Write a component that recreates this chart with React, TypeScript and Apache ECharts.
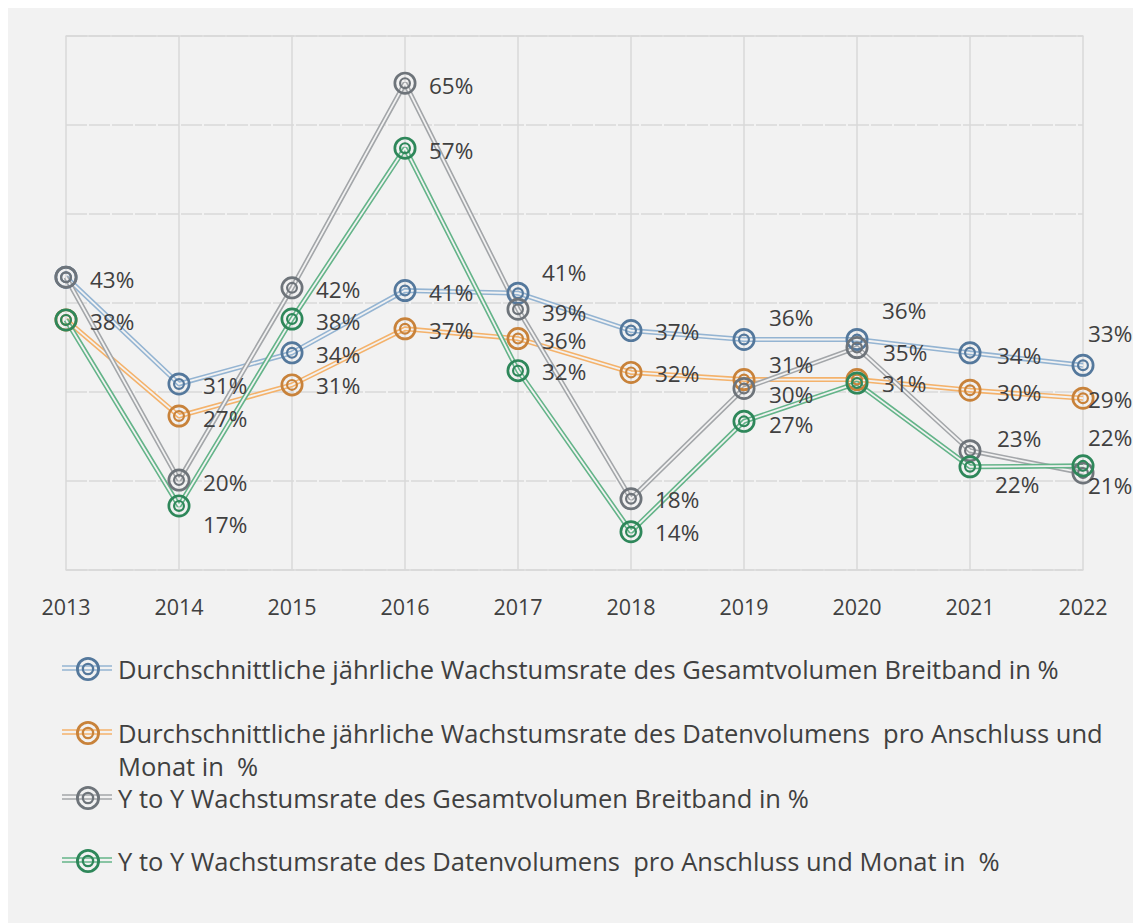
import React, { useEffect, useRef } from "react";
import * as echarts from "echarts";

const years = ["2013", "2014", "2015", "2016", "2017", "2018", "2019", "2020", "2021", "2022"];
const avgTotal = [42.9, 30.9, 34.4, 41.4, 41.1, 36.9, 35.9, 35.9, 34.4, 33.0];
const avgPerLine = [38.1, 27.3, 30.8, 37.1, 36.0, 32.2, 31.4, 31.4, 30.2, 29.3];
const yoyTotal = [42.9, 20.1, 41.7, 64.7, 39.3, 18.0, 30.4, 35.0, 23.4, 20.9];
const yoyPerLine = [38.1, 17.2, 38.2, 57.4, 32.4, 14.3, 26.7, 31.0, 21.6, 21.7];

const names = [
  "Durchschnittliche jährliche Wachstumsrate des Gesamtvolumen Breitband in %",
  "Durchschnittliche jährliche Wachstumsrate des Datenvolumens  pro Anschluss und Monat in  %",
  "Y to Y Wachstumsrate des Gesamtvolumen Breitband in %",
  "Y to Y Wachstumsrate des Datenvolumens  pro Anschluss und Monat in  %",
];

// label offsets (style only); null = label coincides with another series' label
const labelOffsets: (number[] | null)[][] = [
  [[0, 2], [0, 2], [0, 2], [0, 2], [0, -21], [0, 1], [1, -22], [1, -29], [3, 3], [-19, -32]],
  [[0, 2], [0, 2], [0, 1], [0, 2], [0, 2], [0, 1], [1, -15], [1, 4], [3, 2], [-19, 1]],
  [null, [0, 2], [0, 2], [0, 2], [0, 3], [0, 1], [1, 6], [2, 5], [3, -12], [-19, 13]],
  [null, [0, 19], [0, 2], [0, 2], [0, 1], [0, 1], [1, 3], null, [1, 18], [-19, -28]],
];

const markerColors = ["#54789c", "#c8823a", "#6e747a", "#2e875a"];
const lineColors = ["#94b4d2", "#f4b26b", "#a3a6a9", "#64b489"];
const BG = "#f2f2f2";
const FONT = "'Open Sans', Lato, sans-serif";
const TEXT = "#404040";

const ring =
  "path://M0.5 12A11.5 11.5 0 1 1 23.5 12A11.5 11.5 0 1 1 0.5 12Z" +
  "M3.2 12A8.8 8.8 0 1 0 20.8 12A8.8 8.8 0 1 0 3.2 12Z" +
  "M6 12A6 6 0 1 1 18 12A6 6 0 1 1 6 12Z" +
  "M8.2 12A3.8 3.8 0 1 0 15.8 12A3.8 3.8 0 1 0 8.2 12Z";

export default function App() {
  const ref = useRef<HTMLDivElement>(null);
  useEffect(() => {
    if (!ref.current) return;
    const chart = echarts.init(ref.current, undefined, { renderer: "svg" });
    const datasets = [avgTotal, avgPerLine, yoyTotal, yoyPerLine];
    const series: any[] = [];
    datasets.forEach((d, i) => {
      series.push({
        name: names[i] + " (Linie)",
        type: "line",
        data: d,
        symbol: "none",
        silent: true,
        z: 2,
        lineStyle: { color: lineColors[i], width: 5 },
        itemStyle: { color: lineColors[i] },
      });
      series.push({
        name: names[i] + " (innen)",
        type: "line",
        data: d,
        symbol: "none",
        silent: true,
        z: 2,
        lineStyle: { color: BG, width: 1.8 },
        itemStyle: { color: BG },
      });
    });
    datasets.forEach((d, i) => {
      series.push({
        name: names[i],
        type: "line",
        z: 3,
        symbol: ring,
        symbolSize: 23,
        itemStyle: { color: markerColors[i] },
        lineStyle: { opacity: 0, width: 0 },
        data: d.map((v, j) => {
          const off = labelOffsets[i][j];
          return {
            value: v,
            label: {
              show: off !== null,
              position: "right",
              distance: 12.5,
              offset: off || [0, 0],
              formatter: (p: any) => Math.round(p.value) + "%",
              color: TEXT,
              fontSize: 22.5,
              lineHeight: 24,
              fontFamily: FONT,
            },
          };
        }),
      });
    });

    const legendTops = [648, 712, 777, 840];
    const legendLeft = 68;
    const legends = names.map((n, i) => ({
      data: [n],
      left: legendLeft,
      top: legendTops[i],
      padding: 0,
      itemWidth: 50,
      itemHeight: 24,
      itemGap: 5,
      icon: ring,
      selectedMode: false,
      formatter: (name: string) =>
        i === 1 ? "Durchschnittliche jährliche Wachstumsrate des Datenvolumens  pro Anschluss und" : name,
      textStyle: { color: TEXT, fontSize: 25.5, lineHeight: 26, fontFamily: FONT },
    }));

    const graphics: any[] = [];
    legendTops.forEach((t, i) => {
      const cy = t + 12;
      graphics.push({
        type: "rect",
        left: 54,
        top: cy - 2.8,
        shape: { width: 50, height: 1.6 },
        style: { fill: lineColors[i] },
        z: 1,
      });
      graphics.push({
        type: "rect",
        left: 54,
        top: cy + 1.2,
        shape: { width: 50, height: 1.6 },
        style: { fill: lineColors[i] },
        z: 1,
      });
    });
    graphics.push({
      type: "text",
      left: 110,
      top: 745,
      style: { text: "Monat in  %", fill: TEXT, fontSize: 25.5, lineHeight: 26, fontFamily: FONT },
    });

    chart.setOption({
      animation: false,
      backgroundColor: BG,
      grid: { left: 58, right: 58, top: 28, height: 534, containLabel: false },
      xAxis: [
        {
          type: "category",
          data: years,
          boundaryGap: false,
          axisLine: { lineStyle: { color: "#d9d9d9", width: 1.5 } },
          axisTick: { show: false },
          axisLabel: { color: TEXT, fontSize: 21.5, fontFamily: FONT, margin: 25 },
          splitLine: { show: true, lineStyle: { color: "#d9d9d9", width: 1.5 } },
        },
        {
          type: "category",
          data: years,
          position: "top",
          boundaryGap: false,
          axisLine: { lineStyle: { color: "#d9d9d9", width: 1.5 } },
          axisTick: { show: false },
          axisLabel: { show: false },
          splitLine: { show: false },
        },
      ],
      yAxis: {
        type: "value",
        min: 10,
        max: 70,
        interval: 10,
        axisLine: { show: false },
        axisTick: { show: false },
        axisLabel: { show: false },
        splitLine: { show: true, lineStyle: { color: "#d9d9d9", width: 1.5, type: [21, 2] } },
      },
      legend: legends,
      graphic: graphics,
      series,
    });
    return () => chart.dispose();
  }, []);
  return <div ref={ref} style={{ width: 1133, height: 915 }} />;
}
